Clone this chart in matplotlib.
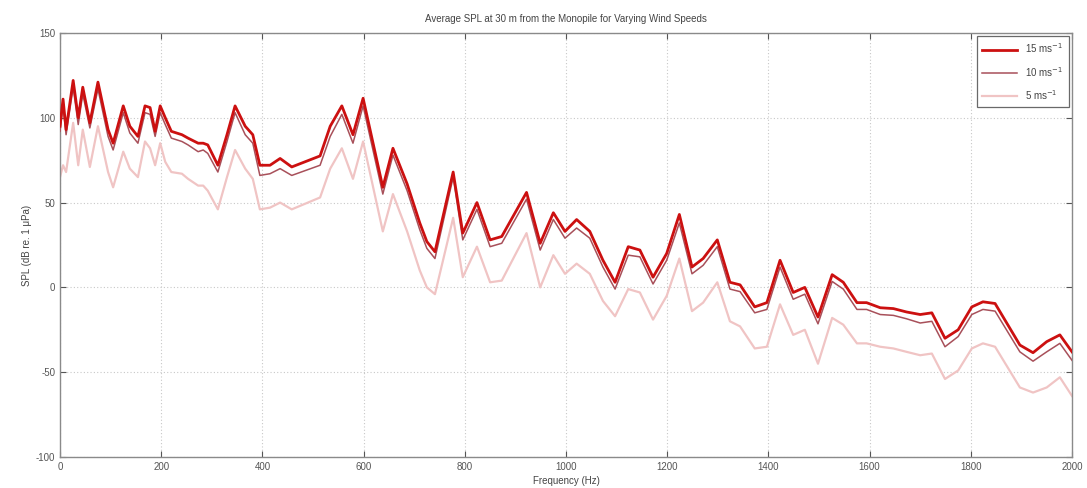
import matplotlib

matplotlib.use("Agg")
import matplotlib.pyplot as plt

plt.rcParams["font.family"] = ["Liberation Sans", "DejaVu Sans"]
plt.rcParams["axes.unicode_minus"] = False

# Frequency grid (Hz) and average SPL (dB re 1 uPa) for each wind speed
freq = [0, 6, 12, 26, 36, 45, 59, 75, 95, 105, 125, 138, 154, 168, 178, 188,
        198, 208, 220, 241, 253, 273, 283, 292, 312, 330, 346, 366, 381, 395,
        415, 435, 458, 514, 534, 557, 579, 599, 638, 658, 686, 711, 725, 741,
        777, 796, 824, 850, 873, 922, 949, 975, 998, 1021, 1047, 1073, 1097,
        1123, 1146, 1172, 1199, 1224, 1249, 1271, 1299, 1324, 1344, 1373,
        1397, 1423, 1449, 1472, 1498, 1526, 1548, 1575, 1594, 1621, 1647,
        1673, 1700, 1723, 1749, 1775, 1802, 1824, 1848, 1897, 1923, 1950,
        1976, 2000]

spl_15 = [95, 111, 93, 122, 100, 118, 97, 121, 93, 85, 107, 95, 89, 107, 106,
          92, 107, 100, 92, 90, 88, 85, 85, 84, 72, 90, 107, 95, 90, 72, 72,
          76, 71, 77.5, 95, 107, 90, 111.5, 59, 82, 61, 38, 27, 21, 68, 32,
          50, 28, 30, 56, 26, 44, 33, 40, 33, 16, 3, 24, 22, 6, 20, 43, 12,
          17, 28, 3, 1.5, -11.5, -9, 16, -3, 0, -17.5, 7.5, 3, -9, -9, -12,
          -12.5, -14.5, -16, -15, -30, -25, -11.5, -8.5, -9.5, -34, -38.5,
          -32, -28, -38]

spl_10 = [92, 107, 90, 118, 96, 114, 94, 117, 89, 81, 103, 91, 85, 103, 102,
          89, 103, 96, 88, 86, 84, 80, 81, 79, 68, 86, 103, 90, 85, 66, 67,
          70, 66, 72, 89, 102, 85, 107, 55, 78, 57, 34, 23, 17, 65, 28, 46,
          24, 26, 52, 22, 40, 29, 35, 29, 12, -1, 19, 18, 2, 16, 38, 8, 13,
          24, -1, -2.5, -15, -13, 12, -7, -4, -21.5, 3.5, -1, -13, -13, -16,
          -16.5, -18.5, -21, -20, -35, -29, -16, -13, -14, -38, -43.5, -38,
          -33, -43]

spl_5 = [65, 72, 68, 97, 72, 93, 71, 95, 68, 59, 80, 70, 65, 86, 82, 72, 85,
         74, 68, 67, 64, 60, 60, 57, 46, 65, 81, 70, 64, 46, 47, 50, 46, 53,
         70, 82, 64, 86, 33, 55, 33, 10, 0, -4, 41, 6, 24, 3, 4, 32, 0, 19, 8,
         14, 8, -8, -17, -1, -3, -19, -5, 17, -14, -9, 3, -20, -23, -36, -35,
         -10, -28, -25, -45, -18, -22, -33, -33, -35, -36, -38, -40, -39, -54,
         -49, -36, -33, -35, -59, -62, -59, -53, -64]

labels = ["15 ms$^{-1}$", "10 ms$^{-1}$", "5 ms$^{-1}$"]

fig = plt.figure(figsize=(10.87, 4.88), dpi=100)
fig.patch.set_facecolor("white")
ax = fig.add_axes([0.0552, 0.0635, 0.931, 0.869])

ax.plot(freq, spl_15, color="#cc1010", linewidth=2.0, label=labels[0], zorder=4)
ax.plot(freq, spl_10, color="#a8505a", linewidth=1.1, label=labels[1], zorder=3)
ax.plot(freq, spl_5, color="#f0c4c4", linewidth=1.6, label=labels[2], zorder=2)

ax.set_xlim(0, 2000)
ax.set_ylim(-100, 150)
ax.set_xticks(range(0, 2001, 200))
ax.set_yticks(range(-100, 151, 50))
ax.grid(True, color="#c8c8c8", linestyle=(0, (1, 2)), linewidth=0.8)
ax.tick_params(direction="in", top=True, right=True, labelsize=7,
               colors="#555555", length=4)
for spine in ax.spines.values():
    spine.set_color("#8a8a8a")
    spine.set_linewidth(1.0)

ax.set_title("Average SPL at 30 m from the Monopile for Varying Wind Speeds",
             fontsize=7, color="#444444", pad=8)
ax.set_xlabel("Frequency (Hz)", fontsize=7, color="#444444", labelpad=3)
ax.set_ylabel("SPL (dB re. 1 \u03bcPa)", fontsize=7, color="#444444", labelpad=3)

leg = ax.legend(loc="upper right", fontsize=7, frameon=True, fancybox=False,
                edgecolor="#444444", handlelength=3.6, borderaxespad=0.3,
                labelspacing=0.95, borderpad=0.6)
leg.get_frame().set_linewidth(0.9)
for text in leg.get_texts():
    text.set_color("#444444")

fig.savefig("out.png", dpi=100, facecolor="white")
plt.close(fig)
